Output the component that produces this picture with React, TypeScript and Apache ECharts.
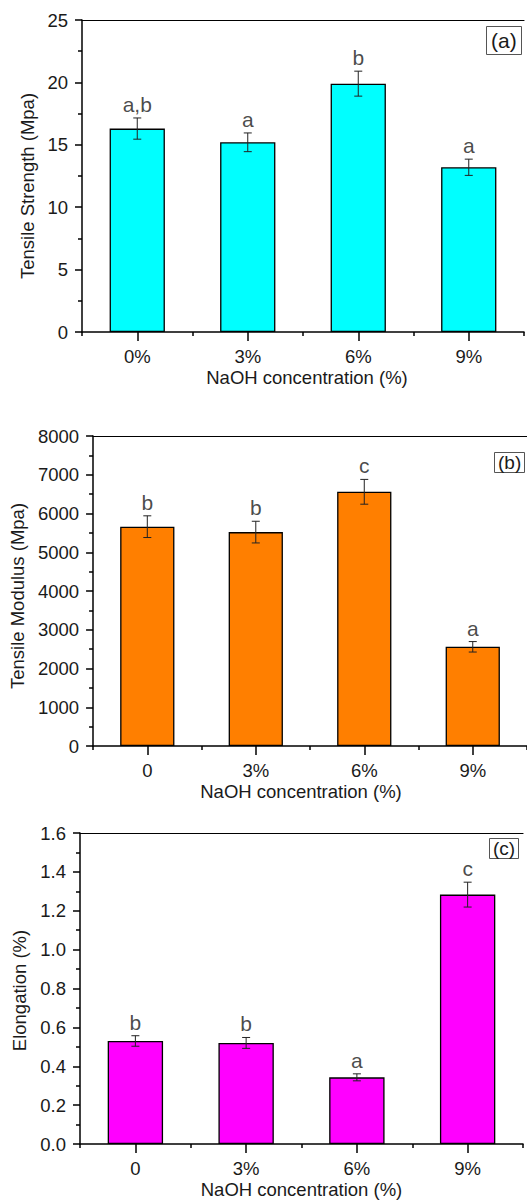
import React, { useEffect, useRef } from "react";
import * as echarts from "echarts";

const catsA = ["0%", "3%", "6%", "9%"];
const catsB = ["0", "3%", "6%", "9%"];
const catsC = ["0", "3%", "6%", "9%"];

const strength = [16.3, 15.2, 19.9, 13.2];
const strengthErr = [0.85, 0.75, 1.0, 0.65];
const strengthLetters = ["a,b", "a", "b", "a"];

const modulus = [5660, 5520, 6560, 2560];
const modulusErr = [280, 280, 320, 135];
const modulusLetters = ["b", "b", "c", "a"];

const elongation = [0.53, 0.52, 0.343, 1.283];
const elongationErr = [0.027, 0.028, 0.018, 0.064];
const elongationLetters = ["b", "b", "a", "c"];

const yTicksA = { min: 0, max: 25, interval: 5 };
const yTicksB = { min: 0, max: 8000, interval: 1000 };
const yTicksC = { min: 0, max: 1.6, interval: 0.2 };

const FONT = "Liberation Sans";
const TXT = "#1a1a1a";

export default function App() {
  const ref = useRef<HTMLDivElement>(null);
  useEffect(() => {
    if (!ref.current) return;
    const chart = echarts.init(ref.current, null, { renderer: "svg" });

    const panels = [
      { cats: catsA, vals: strength, errs: strengthErr, letters: strengthLetters, color: "#00FFFF", y: yTicksA, yName: "Tensile Strength (Mpa)", grid: { left: 82, top: 20, width: 442, height: 312 }, nameGap: 34, namePad: [0, 20, 0, 0], xNamePad: [0, 0, 0, 8], fmt: (v: number) => String(v) },
      { cats: catsB, vals: modulus, errs: modulusErr, letters: modulusLetters, color: "#FF7F00", y: yTicksB, yName: "Tensile Modulus (Mpa)", grid: { left: 92, top: 436, width: 439, height: 310 }, nameGap: 60, namePad: [0, 10, 0, 0], xNamePad: [0, 18, 0, 0], fmt: (v: number) => String(v) },
      { cats: catsC, vals: elongation, errs: elongationErr, letters: elongationLetters, color: "#FF00FF", y: yTicksC, yName: "Elongation (%)", grid: { left: 80, top: 833, width: 443, height: 313 }, nameGap: 46, namePad: [0, 4, 0, 0], xNamePad: [0, 0, 0, 0], fmt: (v: number) => v.toFixed(1) },
    ];

    const grid: any[] = [];
    const xAxis: any[] = [];
    const yAxis: any[] = [];
    const series: any[] = [];
    const labelStyle = { color: TXT, fontSize: 18.5, fontFamily: FONT };

    panels.forEach((p, i) => {
      grid.push({ ...p.grid, containLabel: false });
      const xMain = xAxis.length;
      xAxis.push({
        type: "category", gridIndex: i, data: p.cats, position: "bottom",
        axisLine: { show: true, lineStyle: { color: "#000", width: 1.5 } },
        axisTick: { show: true, interval: 0, alignWithLabel: false, length: 4, lineStyle: { color: "#000", width: 1.5 } },
        axisLabel: { ...labelStyle, margin: 15, interval: 0 },
        name: "NaOH concentration (%)", nameLocation: "middle", nameGap: 36,
        nameTextStyle: { ...labelStyle, padding: p.xNamePad },
      });
      xAxis.push({
        type: "category", gridIndex: i, data: p.cats, position: "bottom",
        axisLine: { show: false },
        axisTick: { show: true, interval: 0, alignWithLabel: true, length: 9, lineStyle: { color: "#000", width: 1.5 } },
        axisLabel: { show: false },
      });
      xAxis.push({
        type: "category", gridIndex: i, data: p.cats, position: "top",
        axisLine: { show: true, lineStyle: { color: "#000", width: 1.2 } },
        axisTick: { show: false }, axisLabel: { show: false },
      });
      const yIdx = yAxis.length;
      yAxis.push({
        type: "value", gridIndex: i, min: p.y.min, max: p.y.max, interval: p.y.interval,
        axisLine: { show: true, lineStyle: { color: "#000", width: 1.5 } },
        axisTick: { show: true, length: 7, lineStyle: { color: "#000", width: 1.5 } },
        minorTick: { show: true, splitNumber: 2, length: 4, lineStyle: { color: "#000", width: 1.5 } },
        splitLine: { show: false },
        axisLabel: { ...labelStyle, margin: 14, formatter: p.fmt },
        name: p.yName, nameLocation: "middle", nameGap: p.nameGap, nameRotate: 90,
        nameTextStyle: { ...labelStyle, padding: p.namePad },
      });
      series.push({
        type: "bar", xAxisIndex: xMain, yAxisIndex: yIdx, data: p.vals, barWidth: "50%",
        itemStyle: { color: p.color, borderColor: "#000", borderWidth: 1.3 },
      });
      series.push({
        type: "custom", xAxisIndex: xMain, yAxisIndex: yIdx,
        data: p.vals.map((v, k) => [k, v - p.errs[k], v + p.errs[k]]),
        renderItem: (params: any, api: any) => {
          const lo = api.coord([api.value(0), api.value(1)]);
          const hi = api.coord([api.value(0), api.value(2)]);
          const w = 4;
          const st = { stroke: "#222", lineWidth: 1 };
          return {
            type: "group",
            children: [
              { type: "line", shape: { x1: lo[0], y1: lo[1], x2: hi[0], y2: hi[1] }, style: st },
              { type: "line", shape: { x1: lo[0] - w, y1: lo[1], x2: lo[0] + w, y2: lo[1] }, style: st },
              { type: "line", shape: { x1: hi[0] - w, y1: hi[1], x2: hi[0] + w, y2: hi[1] }, style: st },
            ],
          };
        },
        z: 5,
      });
      series.push({
        type: "scatter", xAxisIndex: xMain, yAxisIndex: yIdx, symbolSize: 0,
        data: p.vals.map((v, k) => [k, v + p.errs[k]]),
        label: {
          show: true, position: "top", distance: 3, color: TXT, fontSize: 21, fontFamily: FONT,
          formatter: (d: any) => p.letters[d.dataIndex],
        },
      });
    });

    const titles = [
      { text: "(a)", left: 486, top: 26, padding: [4, 5, 4, 5], fontSize: 21 },
      { text: "(b)", left: 494, top: 452, padding: [1, 4, 1, 4], fontSize: 19 },
      { text: "(c)", left: 489, top: 838, padding: [1, 4, 1, 4], fontSize: 19 },
    ].map((t) => ({
      text: t.text, left: t.left, top: t.top, padding: t.padding,
      borderColor: "#555", borderWidth: 1,
      textStyle: { color: TXT, fontSize: t.fontSize, fontWeight: "normal", fontFamily: FONT },
    }));

    chart.setOption({
      animation: false,
      backgroundColor: "#fff",
      title: titles,
      grid, xAxis, yAxis, series,
    });
    return () => chart.dispose();
  }, []);
  return <div ref={ref} style={{ position: "absolute", left: 0, top: 0, width: 527, height: 1200 }} />;
}
